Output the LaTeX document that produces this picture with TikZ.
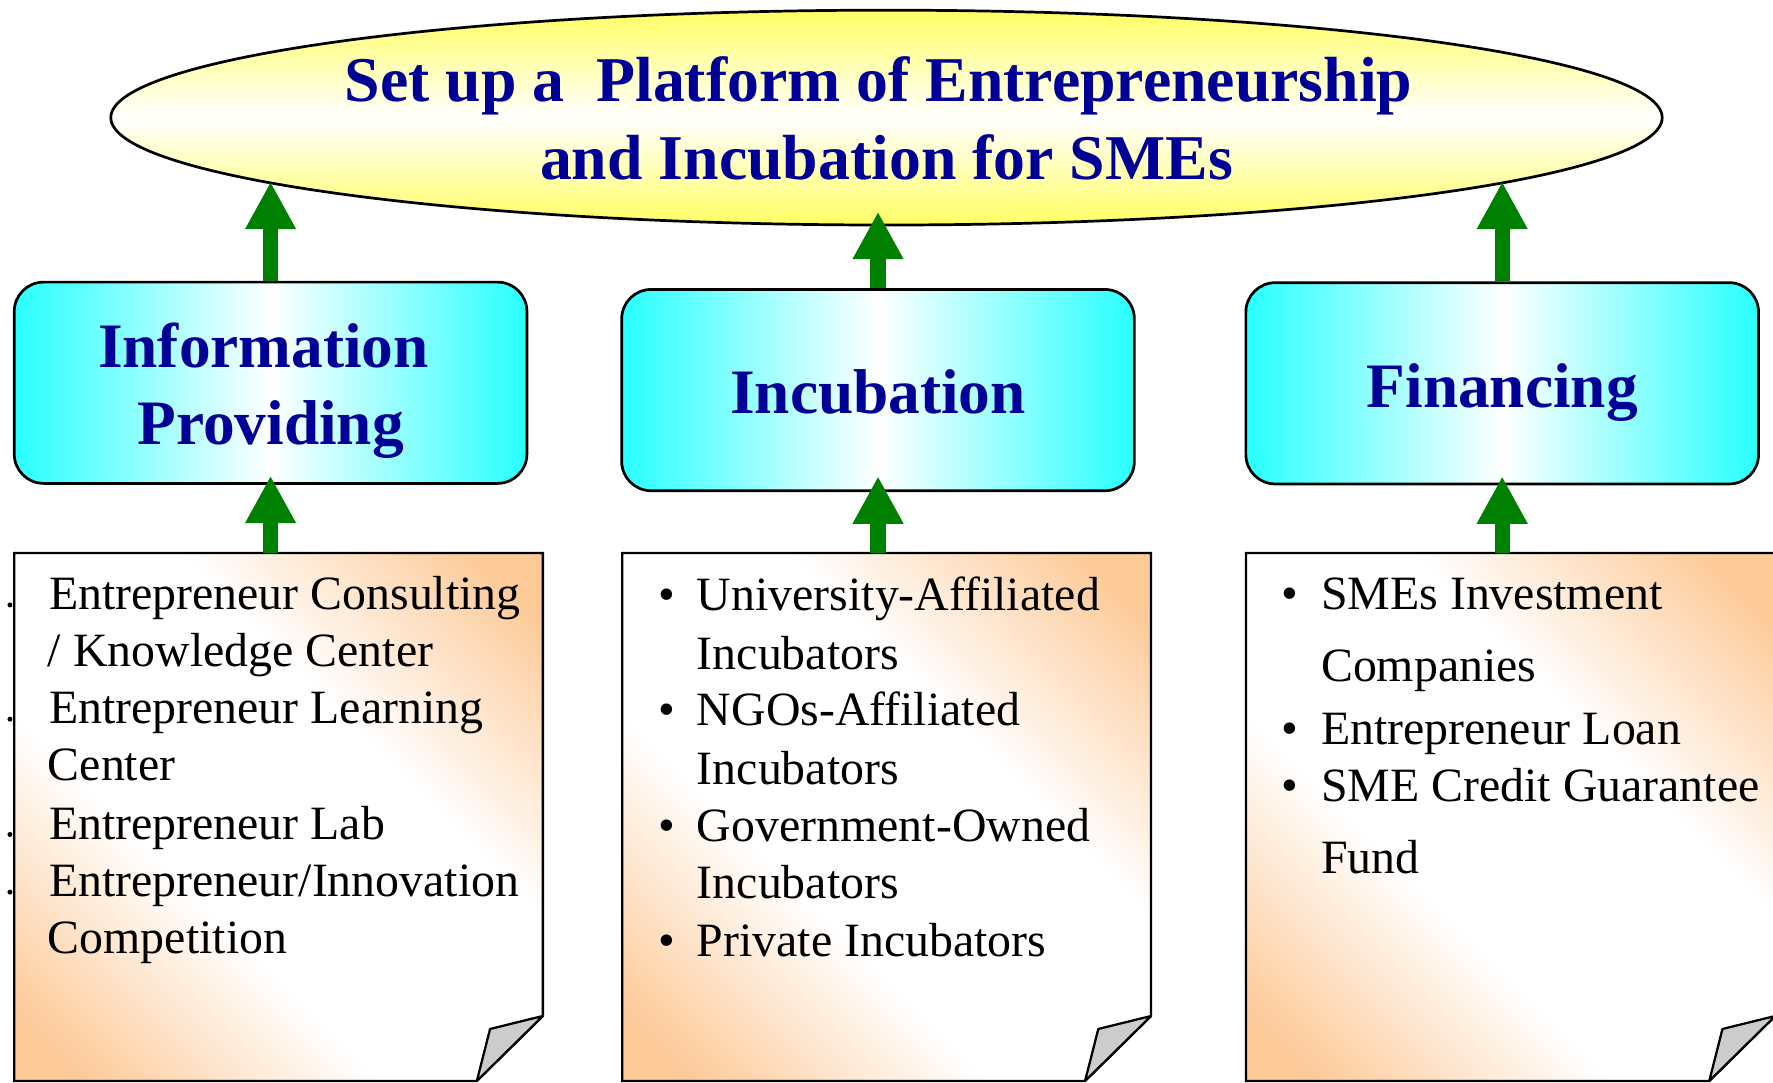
\documentclass[tikz,border=0pt]{standalone}
\usepackage{fontspec}
\setmainfont{Liberation Serif}
\usetikzlibrary{arrows.meta,shapes.geometric}
\definecolor{navy}{RGB}{0,0,150}
\definecolor{agreen}{RGB}{0,128,0}
\definecolor{cyanx}{RGB}{40,255,255}
\definecolor{yell}{RGB}{255,255,100}
\definecolor{peach}{RGB}{253,202,152}
\definecolor{foldgray}{RGB}{204,204,204}
\pgfdeclareverticalshading{notesh}{100bp}{color(0bp)=(peach); color(19bp)=(peach); color(39bp)=(white); color(61bp)=(white); color(81bp)=(peach); color(100bp)=(peach)}
\tikzset{
  titletext/.style={font=\fontsize{28.2}{33}\selectfont\bfseries, text=navy, inner sep=0pt, anchor=base},
  boxtext/.style={font=\fontsize{28}{33}\selectfont\bfseries, text=navy, inner sep=0pt, anchor=base},
  cbox/.style={draw=black, line width=1.2pt, rounded corners=13pt, minimum width=226.7pt, minimum height=89pt, inner sep=0pt,
     left color=cyanx, right color=cyanx, middle color=white},
  ntext/.style={font=\fontsize{21.15}{25}\selectfont, inner sep=0pt, anchor=base west},
  bul/.style={font=\fontsize{21.15}{25}\selectfont, inner sep=0pt, anchor=base},
  notebg/.style={draw=black, line width=1pt, shading=notesh, shading angle=-45},
  fold/.style={draw=black, line width=1pt, fill=foldgray, line join=round},
  garrow/.style={draw=agreen, line width=6.8pt, -{Triangle[width=21pt,length=21pt]}},
}
\begin{document}
\begin{tikzpicture}[x=0.5pt,y=-0.5pt]
\useasboundingbox (0,0) rectangle (1568,957);

% top ellipse
\node[ellipse, draw=black, line width=1.2pt, minimum width=686pt, minimum height=95pt, inner sep=0pt,
      top color=yell, bottom color=yell, middle color=white] (ell) at (784,104) {};
\node[titletext] (t1) at (777,90) {Set up a~~Platform of Entrepreneurship};
\node[titletext] (t2) at (784,159) {and Incubation for SMEs};

% middle boxes
\node[cbox] (b1) at (239.3,338.5) {};
\node[cbox] (b2) at (776.5,345) {};
\node[cbox] (b3) at (1328.5,339) {};
\node[boxtext] (b1a) at (233,325) {Information};
\node[boxtext] (b1b) at (239.3,393) {Providing};
\node[boxtext] (b2a) at (776.5,366) {Incubation};
\node[boxtext] (b3a) at (1328.5,360) {Financing};

% notes
\shade[notebg] (12.6,489) -- (480.1,489) -- (480.1,898.5) -- (421.7,956) -- (12.6,956) -- cycle;
\draw[fold] (480.1,898.5) -- (433.4,910) -- (421.7,956) -- cycle;
\shade[notebg] (550.4,489) -- (1018,489) -- (1018,898.5) -- (959.6,956) -- (550.4,956) -- cycle;
\draw[fold] (1018,898.5) -- (971.3,910) -- (959.6,956) -- cycle;
\shade[notebg] (1102,489) -- (1570,489) -- (1570,898.5) -- (1511.6,956) -- (1102,956) -- cycle;
\draw[fold] (1570,898.5) -- (1523.3,910) -- (1511.6,956) -- cycle;
\coordinate (n1) at (239.3,489);
\coordinate (n2) at (776.5,489);
\coordinate (n3) at (1328.5,489);

% left note text
\foreach \yy in {539,640,742,793} \fill (8.8,\yy-4) circle (2.2);
\node[ntext] (l1) at (43,539) {Entrepreneur Consulting};
\node[ntext] (l2) at (42,589.5) {/ Knowledge Center};
\node[ntext] (l3) at (43,640) {Entrepreneur Learning};
\node[ntext] (l4) at (42,690.5) {Center};
\node[ntext] (l5) at (43,742) {Entrepreneur Lab};
\node[ntext] (l6) at (43,793) {Entrepreneur/Innovation};
\node[ntext] (l7) at (42,843) {Competition};

% middle note text
\node[bul] (mb1) at (590,540) {•};
\node[bul] (mb2) at (590,642) {•};
\node[bul] (mb3) at (590,744) {•};
\node[bul] (mb4) at (590,846) {•};
\node[ntext] (m1) at (616,540) {University-Affiliated};
\node[ntext] (m2) at (616,592) {Incubators};
\node[ntext] (m3) at (616,642) {NGOs-Affiliated};
\node[ntext] (m4) at (616,694) {Incubators};
\node[ntext] (m5) at (616,744) {Government-Owned};
\node[ntext] (m6) at (616,795) {Incubators};
\node[ntext] (m7) at (616,846) {Private Incubators};

% right note text
\node[bul] (rb1) at (1141,539) {•};
\node[bul] (rb2) at (1141,658) {•};
\node[bul] (rb3) at (1141,708.5) {•};
\node[ntext] (r1) at (1168,539) {SMEs Investment};
\node[ntext] (r2) at (1168,603) {Companies};
\node[ntext] (r3) at (1168,658) {Entrepreneur Loan};
\node[ntext] (r4) at (1168,708.5) {SME Credit Guarantee};
\node[ntext] (r5) at (1168,772.5) {Fund};

% arrows
\coordinate (e1) at (239.3,160.7);
\coordinate (e2) at (776.5,187.2);
\coordinate (e3) at (1328.5,160.7);
\draw[garrow] (b1.north) -- (e1);
\draw[garrow] (b2.north) -- (e2);
\draw[garrow] (b3.north) -- (e3);
\draw[garrow, shorten >=-4pt] (n1) -- (b1.south);
\draw[garrow, shorten >=-7pt] (n2) -- (b2.south);
\draw[garrow, shorten >=-4pt] (n3) -- (b3.south);
\end{tikzpicture}
\end{document}
